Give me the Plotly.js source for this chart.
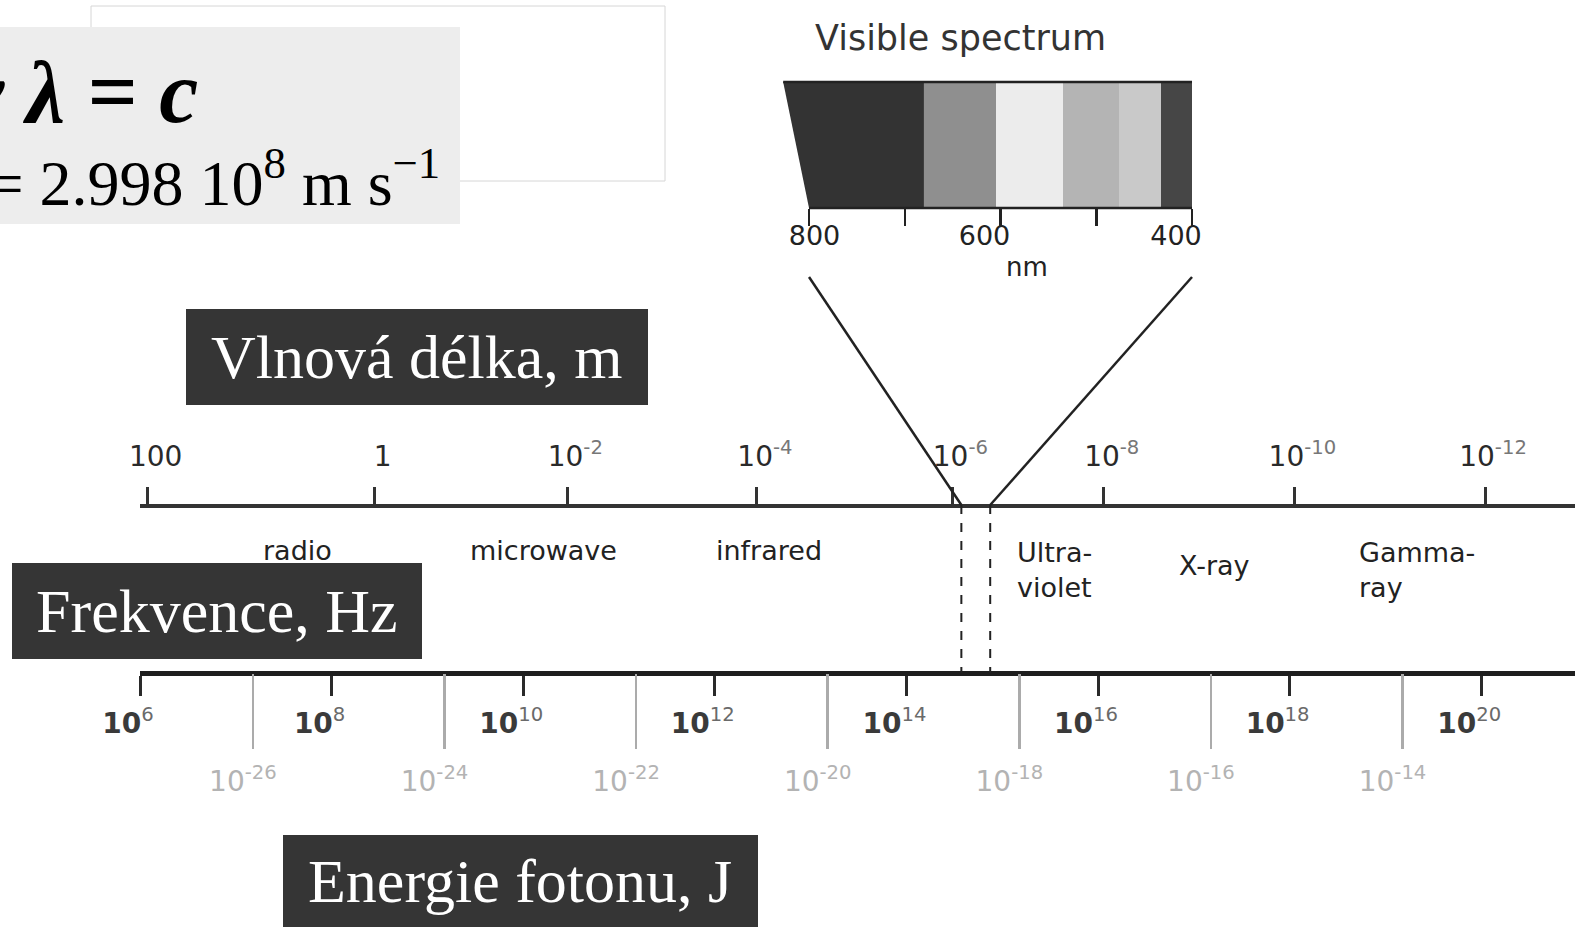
<!DOCTYPE html>
<html><head><meta charset="utf-8">
<script src="https://cdn.plot.ly/plotly-3.0.1.min.js"></script>
<style>html,body{margin:0;padding:0;background:#fff;overflow:hidden}#chart{width:1575px;height:931px}</style>
</head><body><div id="chart"></div>
<script>
// ---------------- data ----------------
const freqExponents = [6, 8, 10, 12, 14, 16, 18, 20];              // frequency ticks, log10(Hz)
const energyExponents = [-26, -24, -22, -20, -18, -16, -14];       // photon energy ticks, log10(J)
const wavelengthExponents = [2, 0, -2, -4, -6, -8, -10, -12];      // wavelength ticks, log10(m)
const wavelengthTickNu = [6.08, 8.45, 10.46, 12.44, 14.48, 16.06, 18.05, 20.04];
const regionNames = ['radio', 'microwave', 'infrared', 'Ultra-<br>violet', 'X-ray', 'Gamma-<br>ray'];
const regionNu = [7.64, 10.21, 12.57, 15.13, 17.22, 18.70];       // log10(Hz)
const visibleEdgesNm = [800, 680, 605, 535, 476, 432, 400];
const visibleGrays = ['#333333', '#8f8f8f', '#ececec', '#b4b4b4', '#c9c9c9', '#464646'];
const visibleSlantNm = 827;
const visibleTicksNm = [800, 700, 600, 500, 400];
const visibleTickLabels = ['800', '', '600', '', '400'];
const visibleLimitsNm = [800, 400];
const SPEED_C = 2.998e8, PLANCK_H = 6.626e-34;

// ---------------- layout helpers ----------------
const W = 1575, H = 931;
const px = x => x / W;
const py = y => 1 - y / H;
const X_DOMAIN = [px(140), 1];
const X_RANGE = [6, 6 + 1435 / 95.8];
const X2_DOMAIN = [px(780.3), px(1196.8)];
const X2_RANGE = [830, 395];
const toPaper = (dom, rng, v) => dom[0] + (v - rng[0]) / (rng[1] - rng[0]) * (dom[1] - dom[0]);
const nuOfNm = nm => Math.log10(SPEED_C / (nm * 1e-9));

const SANS = 'DejaVu Sans, Verdana, sans-serif';
const SERIF = 'Liberation Serif, Times New Roman, serif';

const freqText = freqExponents.map(e => '<b>10</b><span style="color:#6a6a6a"><sup>' + e + '</sup></span>');
const energyNu = energyExponents.map(e => e - Math.log10(PLANCK_H));
const energyText = energyExponents.map(e => '10<sup>' + e + '</sup>');
const wavelengthText = wavelengthExponents.map(e => e === 2 ? '100' : e === 0 ? '1' : '10<span style="color:#777"><sup>' + e + '</sup></span>');
// first visible label sits right of its tick in the original
const visibleText = visibleTickLabels.map((t, i) => i === 0 ? '\u00a0\u00a0\u00a0\u00a0\u00a0' + t : t);

// ---------------- traces ----------------
const traces = [];
// slanted first band of the visible spectrum
traces.push({
  type: 'scatter', mode: 'lines', xaxis: 'x2', yaxis: 'y2',
  x: [visibleSlantNm, visibleEdgesNm[1], visibleEdgesNm[1], visibleEdgesNm[0]],
  y: [1, 1, 0, 0], fill: 'toself', fillcolor: visibleGrays[0],
  line: { width: 0, color: visibleGrays[0] }, hoverinfo: 'skip', showlegend: false
});
// remaining bands
const mids = [], widths = [], cols = [];
for (let i = 1; i < visibleEdgesNm.length - 1; i++) {
  mids.push((visibleEdgesNm[i] + visibleEdgesNm[i + 1]) / 2);
  widths.push(Math.abs(visibleEdgesNm[i] - visibleEdgesNm[i + 1]));
  cols.push(visibleGrays[i]);
}
traces.push({
  type: 'bar', xaxis: 'x2', yaxis: 'y2', x: mids, y: mids.map(() => 1), base: 0,
  width: widths, marker: { color: cols, line: { width: 0 } }, hoverinfo: 'skip', showlegend: false
});
// carriers so every overlaid axis is drawn
['x', 'x3', 'x4'].forEach(ax => traces.push({
  type: 'scatter', mode: 'markers', xaxis: ax, yaxis: 'y', x: [X_RANGE[0]], y: [-5],
  marker: { opacity: 0 }, hoverinfo: 'skip', showlegend: false
}));

// ---------------- shapes ----------------
const shapes = [];
const rect = (x0, y0, x1, y1, fill, line) => shapes.push({
  type: 'rect', xref: 'paper', yref: 'paper', x0: px(x0), x1: px(x1), y0: py(y1), y1: py(y0),
  fillcolor: fill, line: line || { width: 0 }, layer: 'below'
});
rect(91, 6, 665, 181, '#ffffff', { color: '#d6d6d6', width: 1 });
rect(0, 27, 460, 224, '#ededed');
rect(186, 309, 648, 405, '#353535');
rect(12, 563, 422, 659, '#353535');
rect(283, 835, 758, 927, '#353535');
// visible bar edges
shapes.push({ type: 'line', xref: 'x2', yref: 'paper', x0: visibleSlantNm, x1: visibleEdgesNm[visibleEdgesNm.length - 1], y0: py(82), y1: py(82), line: { color: '#222', width: 2.5 } });
shapes.push({ type: 'line', xref: 'x2', yref: 'paper', x0: visibleEdgesNm[0], x1: visibleEdgesNm[visibleEdgesNm.length - 1], y0: py(208), y1: py(208), line: { color: '#222', width: 2.5 } });
// funnel from visible bar to main scale + dashed guides
visibleLimitsNm.forEach(nm => {
  const xt = toPaper(X2_DOMAIN, X2_RANGE, nm);
  const xb = toPaper(X_DOMAIN, X_RANGE, nuOfNm(nm));
  shapes.push({ type: 'line', xref: 'paper', yref: 'paper', x0: xt, y0: py(277), x1: xb, y1: py(505), line: { color: '#222', width: 2.5 } });
  shapes.push({ type: 'line', xref: 'x', yref: 'paper', x0: nuOfNm(nm), x1: nuOfNm(nm), y0: py(505), y1: py(673), line: { color: '#222', width: 2, dash: 'dash' } });
});

// ---------------- annotations ----------------
const annotations = [];
const ann = (o) => annotations.push(Object.assign({ xref: 'paper', yref: 'paper', showarrow: false, xanchor: 'center', yanchor: 'middle' }, o));
ann({ x: px(200), y: py(92), xanchor: 'right', text: '<b><i>ν λ = c</i></b>', font: { family: SERIF, size: 88, color: '#000' } });
ann({ x: px(442), y: py(178), xanchor: 'right', text: 'c = 2.998 10<sup>8</sup> m s<sup>−1</sup>', font: { family: SERIF, size: 64, color: '#000' } });
ann({ x: px(960), y: py(38), text: 'Visible spectrum', font: { family: SANS, size: 35, color: '#333' } });
ann({ x: px(1027), y: py(267), text: 'nm', font: { family: SANS, size: 26, color: '#222' } });
ann({ x: px(417), y: py(357), text: 'Vlnová délka, m', font: { family: SERIF, size: 62, color: '#fff' } });
ann({ x: px(217), y: py(611), text: 'Frekvence, Hz', font: { family: SERIF, size: 62, color: '#fff' } });
ann({ x: px(520), y: py(881), text: 'Energie fotonu, J', font: { family: SERIF, size: 62, color: '#fff' } });
regionNames.forEach((name, i) => {
  const twoLine = name.indexOf('<br>') >= 0;
  annotations.push({
    xref: 'x', yref: 'paper', showarrow: false, x: regionNu[i],
    y: py(name === 'X-ray' ? 565 : twoLine ? 570 : 550), yanchor: 'middle',
    xanchor: twoLine ? 'left' : 'center', align: 'left', text: name,
    font: { family: SANS, size: 27, color: '#222' }
  });
});

// ---------------- layout ----------------
const layout = {
  width: W, height: H, margin: { l: 0, r: 0, t: 0, b: 0 },
  paper_bgcolor: '#fff', plot_bgcolor: 'rgba(0,0,0,0)', showlegend: false,
  xaxis: {
    domain: X_DOMAIN, range: X_RANGE, anchor: 'free', position: py(673),
    showline: true, linecolor: '#1e1e1e', linewidth: 4.5,
    ticks: 'outside', ticklen: 20, tickwidth: 3, tickcolor: '#2a2a2a',
    tickvals: freqExponents, ticktext: freqText, ticklabelshift: -12, ticklabelstandoff: 4,
    tickfont: { family: SANS, size: 28, color: '#3a3a3a' },
    showgrid: false, zeroline: false, fixedrange: true
  },
  xaxis3: {
    overlaying: 'x', domain: X_DOMAIN, range: X_RANGE, anchor: 'free', position: py(505), side: 'top',
    showline: true, linecolor: '#333', linewidth: 3.5,
    ticks: 'outside', ticklen: 17, tickwidth: 3, tickcolor: '#333',
    tickvals: wavelengthTickNu, ticktext: wavelengthText, ticklabelshift: 8, ticklabelstandoff: 10,
    tickfont: { family: SANS, size: 28, color: '#2a2a2a' },
    showgrid: false, zeroline: false, fixedrange: true
  },
  xaxis4: {
    overlaying: 'x', domain: X_DOMAIN, range: X_RANGE, anchor: 'free', position: py(673), side: 'bottom',
    showline: false, ticks: 'outside', ticklen: 75, tickwidth: 2.5, tickcolor: '#ababab',
    tickvals: energyNu, ticktext: energyText, ticklabelshift: -10, ticklabelstandoff: 8,
    tickfont: { family: SANS, size: 28, color: '#b3b3b3' },
    showgrid: false, zeroline: false, fixedrange: true
  },
  yaxis: { domain: [0, 1], range: [0, 1], visible: false, fixedrange: true },
  xaxis2: {
    domain: X2_DOMAIN, range: X2_RANGE, anchor: 'y2', showline: false,
    ticks: 'outside', ticklen: 17, tickwidth: 2.5, tickcolor: '#222',
    tickvals: visibleTicksNm, ticktext: visibleText, ticklabelshift: 16, ticklabelstandoff: -13,
    tickfont: { family: SANS, size: 27, color: '#222' },
    showgrid: false, zeroline: false, fixedrange: true
  },
  yaxis2: { domain: [py(208), py(82)], range: [0, 1], visible: false, fixedrange: true, anchor: 'x2' },
  bargap: 0, shapes: shapes, annotations: annotations
};

Plotly.newPlot('chart', traces, layout, { displayModeBar: false, staticPlot: true });
</script></body></html>
